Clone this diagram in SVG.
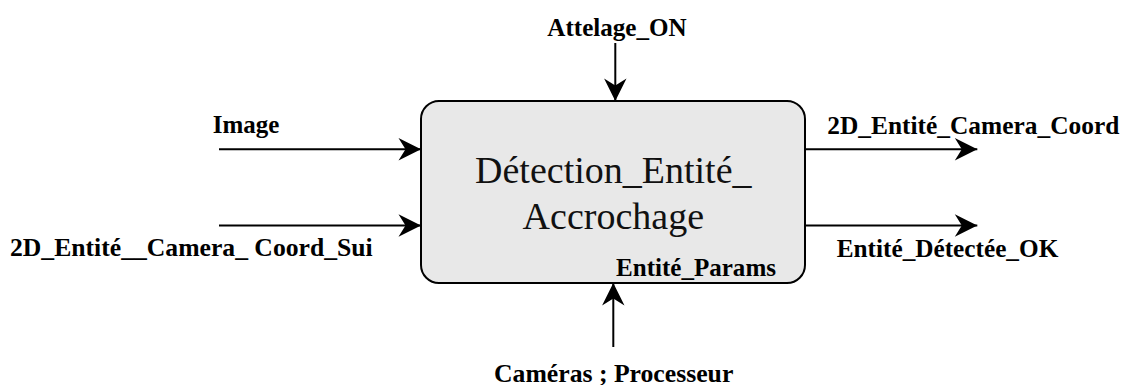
<svg xmlns="http://www.w3.org/2000/svg" width="1121" height="385" viewBox="0 0 1121 385">
  <style>
    .lbl { font-family: "Liberation Serif", "Times New Roman", serif; font-weight: bold; font-size: 25px; fill: #000; }
    .main { font-family: "Liberation Serif", "Times New Roman", serif; font-size: 38px; fill: #111; }
    .conn { stroke: #000; stroke-width: 2; fill: none; marker-end: url(#arr); }
  </style>
  <defs>
    <marker id="arr" markerUnits="userSpaceOnUse" viewBox="-24 -12 26 24" markerWidth="26" markerHeight="24" refX="0" refY="0" orient="auto">
      <path d="M0,0 L-22.5,-11.2 L-15.5,0 L-22.5,11.2 Z" fill="#000"/>
    </marker>
  </defs>
  <rect width="1121" height="385" fill="#fff"/>
  <g id="node-detection">
    <rect x="421" y="101" width="384" height="182" rx="18" ry="18" fill="#e8e8e8" stroke="#000" stroke-width="2"/>
    <text class="main" x="613.3" y="182.7" text-anchor="middle">Détection_Entité_</text>
    <text class="main" x="613.3" y="228.7" text-anchor="middle">Accrochage</text>
    <text class="lbl" x="616" y="276" textLength="160" lengthAdjust="spacingAndGlyphs">Entité_Params</text>
  </g>
  <g id="connectors">
    <line class="conn" x1="219" y1="149.3" x2="421" y2="149.3"/>
    <line class="conn" x1="219" y1="225.5" x2="421" y2="225.5"/>
    <line class="conn" x1="805" y1="149.3" x2="977.3" y2="149.3"/>
    <line class="conn" x1="805" y1="225.5" x2="977.3" y2="225.5"/>
    <line class="conn" x1="615.3" y1="43" x2="615.3" y2="101"/>
    <line class="conn" x1="613.3" y1="347" x2="613.3" y2="283"/>
  </g>
  <g id="labels">
    <text class="lbl" x="547.3" y="35.7" textLength="139.4" lengthAdjust="spacingAndGlyphs">Attelage_ON</text>
    <text class="lbl" x="212.7" y="132.7" textLength="66.6" lengthAdjust="spacingAndGlyphs">Image</text>
    <text class="lbl" x="10" y="256" textLength="362.7" lengthAdjust="spacingAndGlyphs">2D_Entité__Camera_ Coord_Sui</text>
    <text class="lbl" x="827.3" y="134" textLength="292" lengthAdjust="spacingAndGlyphs">2D_Entité_Camera_Coord</text>
    <text class="lbl" x="836.7" y="256.7" textLength="221.6" lengthAdjust="spacingAndGlyphs">Entité_Détectée_OK</text>
    <text class="lbl" x="494" y="381.5" textLength="239.3" lengthAdjust="spacingAndGlyphs">Caméras ; Processeur</text>
  </g>
</svg>
